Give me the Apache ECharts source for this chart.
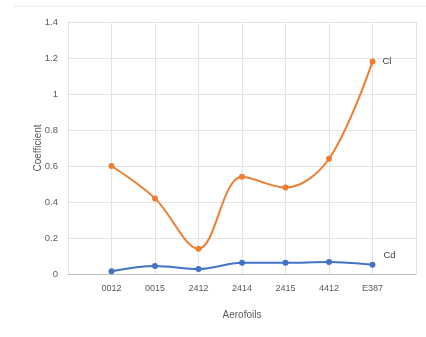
<!DOCTYPE html>
<html>
<head>
<meta charset="utf-8">
<script src="https://cdn.jsdelivr.net/npm/echarts@6/dist/echarts.min.js"></script>
<style>
html,body{margin:0;padding:0;background:#fff;}
#chart{width:426px;height:337px;}
</style>
</head>
<body>
<div id="chart"></div>
<script>
// Aerofoil coefficients
const aerofoils = ['0012', '0015', '2412', '2414', '2415', '4412', 'E387'];
const cl = [0.60, 0.42, 0.14, 0.54, 0.48, 0.64, 1.18];
const cd = [0.015, 0.045, 0.028, 0.062, 0.062, 0.066, 0.052];
const yTicks = [0, 0.2, 0.4, 0.6, 0.8, 1, 1.2, 1.4];

const font = '"Liberation Sans Narrow", "Liberation Sans", Arial, sans-serif';
const gray = '#595959';

// place each aerofoil at positions 1..n with a half-band margin on both sides
const toPoints = vals => vals.map((v, i) => [i + 1, v]);

const chart = echarts.init(document.getElementById('chart'), null, { renderer: 'canvas' });
chart.setOption({
  animation: false,
  backgroundColor: '#fff',
  grid: { left: 68, right: 10, top: 22, bottom: 63 },
  graphic: [{
    type: 'line',
    shape: { x1: 14, y1: 6, x2: 426, y2: 6 },
    style: { stroke: '#e6e6e6', lineWidth: 1 }
  }],
  xAxis: {
    type: 'value',
    min: 0,
    max: aerofoils.length + 1,
    interval: 1,
    name: 'Aerofoils',
    nameLocation: 'middle',
    nameGap: 36,
    nameTextStyle: { color: gray, fontSize: 10, fontFamily: font },
    axisLine: { show: true, lineStyle: { color: '#bfbfbf' } },
    axisTick: { show: false },
    axisLabel: {
      color: gray, fontSize: 9, fontFamily: font, margin: 10,
      showMinLabel: true, showMaxLabel: true,
      formatter: v => aerofoils[v - 1] || ''
    },
    splitLine: { show: true, lineStyle: { color: '#e3e3e3' } }
  },
  yAxis: {
    type: 'value',
    min: 0,
    max: yTicks[yTicks.length - 1],
    interval: 0.2,
    name: 'Coefficient',
    nameLocation: 'middle',
    nameGap: 25,
    nameMoveOverlap: false,
    nameTextStyle: { color: gray, fontSize: 10, fontFamily: font },
    axisLine: { show: true, lineStyle: { color: '#e3e3e3' } },
    axisTick: { show: false },
    axisLabel: {
      color: gray, fontSize: 9.5, fontFamily: font, margin: 10,
      formatter: v => {
        const t = yTicks.find(x => Math.abs(x - v) < 1e-9);
        return t === undefined ? '' : String(t);
      }
    },
    splitLine: { show: true, lineStyle: { color: '#e3e3e3' } }
  },
  series: [
    {
      name: 'Cl',
      type: 'line',
      data: toPoints(cl),
      smooth: 0.35,
      symbol: 'circle',
      symbolSize: 6,
      itemStyle: { color: '#ED7D31' },
      lineStyle: { width: 2, color: '#ED7D31' },
      endLabel: {
        show: true, formatter: '{a}', color: '#404040',
        fontSize: 9.5, fontFamily: font, offset: [2, 0]
      }
    },
    {
      name: 'Cd',
      type: 'line',
      data: toPoints(cd),
      smooth: 0.35,
      symbol: 'circle',
      symbolSize: 6,
      itemStyle: { color: '#4472C4' },
      lineStyle: { width: 2, color: '#4472C4' },
      endLabel: {
        show: true, formatter: '{a}', color: '#404040',
        fontSize: 9.5, fontFamily: font, offset: [3, -9]
      }
    }
  ]
});
</script>
</body>
</html>
